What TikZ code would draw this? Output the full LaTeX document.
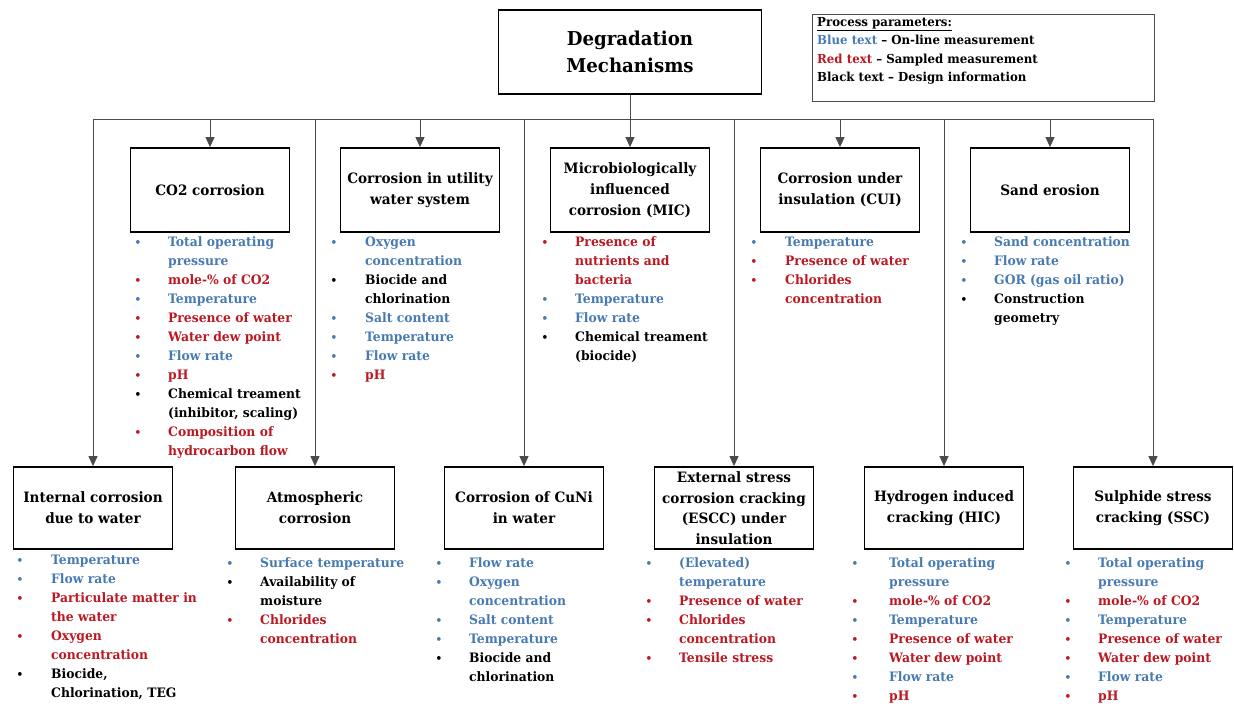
\documentclass[tikz,border=0pt]{standalone}
\usepackage{fontspec}
\setmainfont{DejaVu Serif}[FakeStretch=0.95]
\usetikzlibrary{arrows.meta}

\definecolor{mblue}{RGB}{72,122,178}
\definecolor{mred}{RGB}{188,24,34}
\definecolor{lineg}{RGB}{75,75,75}

% bullet list helpers: \itm{colour}{first line}, \cnt{colour}{continued line}
\newcommand\bul{{\fontsize{11}{11}\selectfont\textbullet}}
\newcommand\itm[2]{\textcolor{#1}{\bul}&\textcolor{#1}{#2}\\}
\newcommand\cnt[2]{&\textcolor{#1}{#2}\\}
\newenvironment{plist}[1]{\fontsize{13}{19}\selectfont\bfseries\begin{tabular}{@{}p{#1pt}@{}l@{}}}{\end{tabular}}

\tikzset{
  mbox/.style={draw=black, line width=1.8pt, minimum width=159pt, minimum height=84pt,
    align=center, inner sep=1pt, font=\fontsize{14.3}{21}\selectfont\bfseries},
  lbox/.style={mbox, minimum height=82pt},
  conn/.style={draw=lineg, line width=1pt},
  arr/.style={conn, -{Triangle[width=9pt,length=10pt]}},
  lst/.style={anchor=north west, inner sep=0pt},
}

\begin{document}
\begin{tikzpicture}[x=1pt, y=-1pt]
\useasboundingbox (0,0) rectangle (1234,707);

% root
\node[mbox, minimum width=263pt, font=\fontsize{19.1}{27}\selectfont\bfseries] (top) at (630,52) {Degradation\\Mechanisms};

% legend
\node[draw=black!70, line width=1pt, minimum width=342pt, minimum height=87pt, inner sep=0pt, anchor=north west] (legend) at (812,14) {};
\node[anchor=north west, inner sep=0pt, align=left, font=\fontsize{12.4}{18.5}\selectfont\bfseries] (legendtext) at ([xshift=5pt,yshift=-3pt]legend.north west)
  {\underline{Process parameters:}\\
   \textcolor{mblue}{Blue text} – On-line measurement\\
   \textcolor{mred}{Red text} – Sampled measurement\\
   Black text – Design information};

% first row of mechanisms
\node[mbox] (co2)  at (210,190) {CO2 corrosion};
\node[mbox] (util) at (420,190) {Corrosion in utility\\water system};
\node[mbox] (mic)  at (630,190) {Microbiologically\\influenced\\corrosion (MIC)};
\node[mbox] (cui)  at (840,190) {Corrosion under\\insulation (CUI)};
\node[mbox] (sand) at (1050,190) {Sand erosion};

% second row of mechanisms
\node[lbox] (internal) at (93,508)  {Internal corrosion\\due to water};
\node[lbox] (atmos)    at (315,508) {Atmospheric\\corrosion};
\node[lbox] (cuni)     at (524,508) {Corrosion of CuNi\\in water};
\node[lbox, font=\fontsize{14.3}{20.5}\selectfont\bfseries] (escc) at (734,508) {External stress\\corrosion cracking\\(ESCC) under\\insulation};
\node[lbox] (hic)      at (944,508) {Hydrogen induced\\cracking (HIC)};
\node[lbox] (ssc)      at (1153,508) {Sulphide stress\\cracking (SSC)};

% connectors
\coordinate (bus) at (0,119);
\draw[conn] (internal.north |- bus) -- (ssc.north |- bus);
\draw[arr] (top.south) -- (mic.north);
\foreach \n in {co2,util,cui,sand,internal,atmos,cuni,escc,hic,ssc}
  \draw[arr] (\n.north |- bus) -- (\n.north);

% parameter lists, first row
\node[lst] (co2p) at (134.5,232.5) {\begin{plist}{33.5}
  \itm{mblue}{Total operating}\cnt{mblue}{pressure}
  \itm{mred}{mole-\% of CO2}
  \itm{mblue}{Temperature}
  \itm{mred}{Presence of water}
  \itm{mred}{Water dew point}
  \itm{mblue}{Flow rate}
  \itm{mred}{pH}
  \itm{black}{Chemical treament}\cnt{black}{(inhibitor, scaling)}
  \itm{mred}{Composition of}\cnt{mred}{hydrocarbon flow}
\end{plist}};

\node[lst] (utilp) at (330.5,232.5) {\begin{plist}{34.5}
  \itm{mblue}{Oxygen}\cnt{mblue}{concentration}
  \itm{black}{Biocide and}\cnt{black}{chlorination}
  \itm{mblue}{Salt content}
  \itm{mblue}{Temperature}
  \itm{mblue}{Flow rate}
  \itm{mred}{pH}
\end{plist}};

\node[lst] (micp) at (541.5,232.5) {\begin{plist}{33.5}
  \itm{mred}{Presence of}\cnt{mred}{nutrients and}\cnt{mred}{bacteria}
  \itm{mblue}{Temperature}
  \itm{mblue}{Flow rate}
  \itm{black}{Chemical treament}\cnt{black}{(biocide)}
\end{plist}};

\node[lst] (cuip) at (750.5,232.5) {\begin{plist}{34.5}
  \itm{mblue}{Temperature}
  \itm{mred}{Presence of water}
  \itm{mred}{Chlorides}\cnt{mred}{concentration}
\end{plist}};

\node[lst] (sandp) at (960.5,232.5) {\begin{plist}{33.5}
  \itm{mblue}{Sand concentration}
  \itm{mblue}{Flow rate}
  \itm{mblue}{GOR (gas oil ratio)}
  \itm{black}{Construction}\cnt{black}{geometry}
\end{plist}};

% parameter lists, second row
\node[lst] (internalp) at (16.5,550.5) {\begin{plist}{34.5}
  \itm{mblue}{Temperature}
  \itm{mblue}{Flow rate}
  \itm{mred}{Particulate matter in}\cnt{mred}{the water}
  \itm{mred}{Oxygen}\cnt{mred}{concentration}
  \itm{black}{Biocide,}\cnt{black}{Chlorination, TEG}
\end{plist}};

\node[lst] (atmosp) at (226.5,553.5) {\begin{plist}{33.5}
  \itm{mblue}{Surface temperature}
  \itm{black}{Availability of}\cnt{black}{moisture}
  \itm{mred}{Chlorides}\cnt{mred}{concentration}
\end{plist}};

\node[lst] (cunip) at (435.5,553.5) {\begin{plist}{33.5}
  \itm{mblue}{Flow rate}
  \itm{mblue}{Oxygen}\cnt{mblue}{concentration}
  \itm{mblue}{Salt content}
  \itm{mblue}{Temperature}
  \itm{black}{Biocide and}\cnt{black}{chlorination}
\end{plist}};

\node[lst] (esccp) at (645.5,553.5) {\begin{plist}{33.5}
  \itm{mblue}{(Elevated)}\cnt{mblue}{temperature}
  \itm{mred}{Presence of water}
  \itm{mred}{Chlorides}\cnt{mred}{concentration}
  \itm{mred}{Tensile stress}
\end{plist}};

\node[lst] (hicp) at (851.5,553.5) {\begin{plist}{37.5}
  \itm{mblue}{Total operating}\cnt{mblue}{pressure}
  \itm{mred}{mole-\% of CO2}
  \itm{mblue}{Temperature}
  \itm{mred}{Presence of water}
  \itm{mred}{Water dew point}
  \itm{mblue}{Flow rate}
  \itm{mred}{pH}
\end{plist}};

\node[lst] (sscp) at (1064.5,553.5) {\begin{plist}{33.5}
  \itm{mblue}{Total operating}\cnt{mblue}{pressure}
  \itm{mred}{mole-\% of CO2}
  \itm{mblue}{Temperature}
  \itm{mred}{Presence of water}
  \itm{mred}{Water dew point}
  \itm{mblue}{Flow rate}
  \itm{mred}{pH}
\end{plist}};

\end{tikzpicture}
\end{document}
